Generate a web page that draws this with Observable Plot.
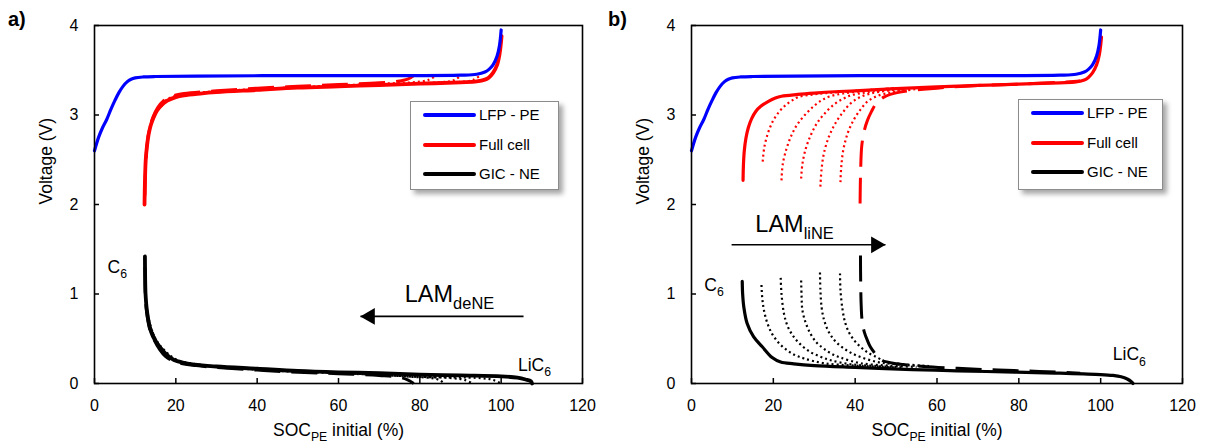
<!DOCTYPE html>
<html><head><meta charset="utf-8">
<script src="https://cdn.jsdelivr.net/npm/d3@7"></script>
<script src="https://cdn.jsdelivr.net/npm/@observablehq/plot@0.6"></script>
<style>
body{margin:0;background:#fff;font-family:"Liberation Sans",Arial,sans-serif;color:#000;}
#wrap{display:flex;width:1211px;height:446px;overflow:hidden;}
.panel{position:relative;height:446px;}
.tag{position:absolute;left:8px;top:8px;font-weight:bold;font-size:20px;}
.legend{position:absolute;background:#fff;border:1px solid #8c8c8c;box-shadow:4px 4px 5px rgba(0,0,0,0.35);font-size:15px;}
.legend .row{position:absolute;left:0;height:0;width:100%;}
.legend .sw{position:absolute;left:12px;width:53px;height:4px;top:-2px;border-radius:2px;}
.legend .lb{position:absolute;left:68px;top:-9px;white-space:nowrap;line-height:18px;}
</style></head><body>
<div id="wrap"><div class="panel" id="pa" style="width:600px"></div><div class="panel" id="pb" style="width:611px"></div></div>
<script>
// ---------- data ----------
const seriesNames = ["LFP - PE", "Full cell", "GIC - NE"];
const seriesColors = ["#0000ff", "#ff0000", "#000000"];
const xTicks = [0, 20, 40, 60, 80, 100, 120];
const yTicks = [0, 1, 2, 3, 4];
const panelTags = ["a)", "b)"];
const xLabel = "SOC|PE| initial (%)";
const yLabel = "Voltage (V)";

// LFP positive electrode (same in both panels) [SOC %, V]
const lfpPE = [[0,2.60],[1,2.75],[2,2.86],[3,2.95],[4,3.06],[5,3.16],[6,3.25],[7,3.32],[8,3.37],[9,3.40],[10,3.415],[12,3.425],[15,3.43],[25,3.435],[50,3.44],[75,3.44],[90,3.445],[94,3.455],[96,3.48],[97,3.51],[98,3.56],[99,3.66],[99.6,3.78],[100,3.95]];

// Panel a) LAM_deNE
const cellA = [[12.3,2.0],[12.4,2.25],[12.6,2.5],[12.9,2.65],[13.3,2.78],[13.8,2.88],[14.5,2.97],[15.4,3.05],[16.5,3.11],[17.9,3.16],[20,3.2],[22,3.22],[26,3.24],[30,3.255],[40,3.28],[50,3.305],[60,3.32],[70,3.335],[80,3.35],[90,3.365],[94,3.375],[96,3.395],[97,3.42],[98,3.47],[99,3.56],[99.6,3.68],[100.1,3.88]];
const cellA_dash = [[12.4,2.1],[12.6,2.45],[13,2.7],[13.6,2.86],[14.4,2.98],[15.5,3.08],[17,3.16],[19,3.21],[22,3.24],[30,3.27],[40,3.3],[50,3.32],[60,3.34],[70,3.36],[75,3.38],[77,3.40],[78.5,3.44]];
const cellA_dot1 = [[12.4,2.2],[12.8,2.6],[13.5,2.84],[14.5,2.96],[16,3.1],[18,3.18],[21,3.225],[30,3.265],[40,3.29],[50,3.31],[60,3.33],[70,3.35],[78,3.365],[82,3.39],[84,3.44]];
const cellA_dot2 = [[12.4,2.25],[12.8,2.62],[13.5,2.85],[15,3.02],[17,3.14],[20,3.2],[30,3.26],[40,3.285],[60,3.325],[80,3.355],[86,3.37],[88.5,3.39],[90,3.44]];
const cellA_dot3 = [[12.4,2.3],[13,2.68],[14,2.92],[16,3.08],[20,3.2],[30,3.255],[50,3.305],[70,3.34],[90,3.37],[93,3.39],[95,3.45]];
const negA = [[12.4,1.42],[12.45,1.2],[12.55,1.0],[12.8,0.85],[13.2,0.72],[13.9,0.58],[14.8,0.49],[16.4,0.39],[18,0.31],[19.7,0.26],[22,0.23],[24.6,0.21],[30,0.19],[40,0.165],[50,0.14],[60,0.125],[70,0.115],[80,0.10],[90,0.09],[100,0.08],[104,0.065],[106,0.045],[107.3,0.025],[107.6,0.0]];
const negA_dash = [[12.4,1.3],[12.5,1.0],[12.8,0.8],[13.5,0.62],[14.5,0.5],[16,0.38],[17.5,0.3],[20,0.24],[25,0.2],[30,0.18],[40,0.15],[50,0.125],[60,0.11],[70,0.09],[75,0.07],[77,0.04],[78.5,0.0]];
const negA_dot1 = [[12.4,1.35],[12.6,0.95],[13,0.78],[14,0.6],[15.5,0.45],[17,0.35],[19,0.27],[23,0.22],[30,0.185],[40,0.155],[50,0.13],[60,0.115],[70,0.095],[78,0.075],[83,0.06],[85,0.035],[86,0.0]];
const negA_dot2 = [[12.4,1.38],[12.6,0.98],[13.2,0.75],[14.5,0.55],[16,0.42],[18,0.32],[21,0.24],[30,0.185],[40,0.16],[60,0.12],[80,0.075],[88,0.06],[91,0.04],[93,0.0]];
const negA_dot3 = [[12.4,1.4],[12.7,0.92],[13.5,0.68],[15,0.5],[17,0.38],[20,0.27],[25,0.215],[40,0.16],[60,0.12],[80,0.075],[95,0.06],[98,0.04],[100,0.0]];

// Panel b) LAM_liNE
const cellB = [[12.6,2.27],[12.7,2.45],[12.9,2.6],[13.3,2.74],[13.9,2.86],[14.7,2.96],[15.7,3.04],[17,3.1],[18.7,3.15],[20.5,3.19],[22,3.21],[26,3.23],[30,3.245],[35,3.26],[40,3.27],[50,3.295],[60,3.315],[70,3.33],[80,3.345],[90,3.36],[94,3.37],[96,3.39],[97,3.42],[98,3.47],[99,3.56],[99.7,3.68],[100.2,3.87]];
const cellB_dot1 = [[17.4,2.48],[17.8,2.64],[18.7,2.8],[20,2.94],[21.5,3.04],[23,3.11],[24.5,3.16],[26,3.2],[29,3.225],[33,3.245],[40,3.27],[50,3.3]];
const cellB_dot2 = [[22.0,2.27],[22.3,2.45],[23.2,2.62],[24.4,2.77],[25.8,2.89],[27.7,3.0],[29.9,3.1],[32,3.17],[34,3.21],[37,3.24],[42,3.27],[50,3.3]];
const cellB_dot3 = [[26.8,2.29],[27.1,2.45],[27.9,2.62],[29.2,2.78],[30.7,2.91],[32.6,3.02],[34.9,3.12],[37,3.18],[39,3.22],[43,3.255],[50,3.29]];
const cellB_dot4 = [[31.5,2.2],[31.8,2.4],[32.4,2.58],[33.6,2.76],[35.2,2.91],[37,3.03],[38.9,3.13],[40.8,3.19],[43,3.23],[46,3.26],[52,3.29]];
const cellB_dot5 = [[36.4,2.25],[36.6,2.42],[37.1,2.61],[38.2,2.8],[39.7,2.95],[41.3,3.06],[43,3.15],[44.8,3.2],[47,3.235],[50,3.26],[55,3.29]];
const cellB_dash = [[41.2,2.01],[41.25,2.2],[41.35,2.4],[41.6,2.65],[42.2,2.82],[43.0,2.94],[44,3.04],[45,3.12],[47,3.2],[50.3,3.25],[60,3.3],[70,3.33],[80,3.345],[90,3.365],[95,3.38]];
const negB = [[12.4,1.14],[12.5,1.0],[12.8,0.85],[13.6,0.67],[15.2,0.52],[17.3,0.41],[19.7,0.29],[21.8,0.24],[25,0.22],[30,0.2],[40,0.18],[54,0.156],[65,0.142],[79,0.127],[90,0.115],[100,0.10],[103,0.09],[105,0.075],[106.5,0.05],[107.5,0.02],[107.9,0.0]];
const negB_dot1 = [[17.1,1.1],[17.3,0.95],[17.7,0.82],[18.5,0.68],[19.7,0.555],[21.4,0.45],[23.4,0.37],[25.4,0.315],[27.5,0.28],[32.3,0.227],[40,0.2],[50,0.18]];
const negB_dot2 = [[21.8,1.18],[22,1.0],[22.6,0.78],[23.5,0.64],[25,0.52],[26.8,0.43],[29.1,0.35],[31.5,0.3],[34,0.26],[38.9,0.215],[45,0.195],[52,0.18]];
const negB_dot3 = [[26.8,1.15],[26.9,0.98],[27.1,0.82],[27.9,0.68],[29.1,0.555],[30.5,0.46],[32.3,0.39],[34.3,0.33],[36.4,0.29],[41.3,0.227],[48,0.2],[55,0.185]];
const negB_dot4 = [[31.4,1.24],[31.5,1.05],[31.8,0.85],[32.4,0.71],[33.4,0.59],[34.8,0.49],[36.4,0.42],[38.3,0.36],[40.5,0.31],[45.4,0.24],[50,0.215],[57,0.19]];
const negB_dot5 = [[36.3,1.23],[36.4,1.05],[36.9,0.83],[37.5,0.69],[38.5,0.57],[39.8,0.48],[41.3,0.41],[42.9,0.35],[44.6,0.31],[47.8,0.24],[52,0.215],[58,0.195]];
const negB_dash = [[41.3,1.43],[41.32,1.25],[41.36,1.1],[41.45,0.9],[41.7,0.7],[42.2,0.58],[43,0.48],[43.7,0.41],[44.6,0.35],[45.5,0.3],[46.6,0.257],[50.3,0.22],[56.8,0.19],[65,0.17],[75,0.15],[85,0.135],[95,0.115]];

// annotations [label, SOC, V]
const annotA = [["C|6", 5.6, 1.3], ["LiC|6", 108.2, 0.2]];
const annotB = [["C|6", 5.5, 1.1], ["LiC|6", 107.0, 0.32]];
const lamA = [["LAM|deNE", 76.3, 1.0]];
const lamB = [["LAM|liNE", 15.6, 1.78]];
const arrowA = [[105.5, 65.4, 0.75]];   // from SOC, to SOC, V
const arrowB = [[9.8, 47.4, 1.55]];

// ---------- styles ----------
const lineStyles = {
  solid: {w: 3.2, dash: null, cap: "round"},
  thick: {w: 3.8, dash: null, cap: "round"},
  dot: {w: 2.2, dash: "2,3", cap: "butt"},
  dash: {w: 3, dash: "26,11", cap: "butt"}
};
const H = 446, mTop = 25, mBottom = 63;

const panels = [
  {el: "pa", width: 600, mLeft: 94, mRight: 18, annot: annotA, lam: lamA, arrow: arrowA, dir: -1,
   legend: {left: 410, top: 101, width: 147, height: 87},
   curves: [
     {pts: negA_dot3, s: 2, st: "dot"}, {pts: negA_dot2, s: 2, st: "dot"}, {pts: negA_dot1, s: 2, st: "dot"}, {pts: negA_dash, s: 2, st: "dash"},
     {pts: cellA_dot3, s: 1, st: "dot"}, {pts: cellA_dot2, s: 1, st: "dot"}, {pts: cellA_dot1, s: 1, st: "dot"}, {pts: cellA_dash, s: 1, st: "dash"},
     {pts: negA, s: 2, st: "thick"}, {pts: cellA, s: 1, st: "thick"}, {pts: lfpPE, s: 0, st: "solid"}
   ]},
  {el: "pb", width: 611, mLeft: 91, mRight: 29, annot: annotB, lam: lamB, arrow: arrowB, dir: 1,
   legend: {left: 418, top: 99, width: 143, height: 89},
   curves: [
     {pts: negB, s: 2, st: "solid"}, {pts: cellB, s: 1, st: "solid"}, {pts: lfpPE, s: 0, st: "solid"},
     {pts: negB_dot1, s: 2, st: "dot"}, {pts: negB_dot2, s: 2, st: "dot"}, {pts: negB_dot3, s: 2, st: "dot"}, {pts: negB_dot4, s: 2, st: "dot"}, {pts: negB_dot5, s: 2, st: "dot"}, {pts: negB_dash, s: 2, st: "dash"},
     {pts: cellB_dot1, s: 1, st: "dot"}, {pts: cellB_dot2, s: 1, st: "dot"}, {pts: cellB_dot3, s: 1, st: "dot"}, {pts: cellB_dot4, s: 1, st: "dot"}, {pts: cellB_dot5, s: 1, st: "dot"}, {pts: cellB_dash, s: 1, st: "dash"}
   ]}
];

function applySubscripts(svg) {
  d3.select(svg).selectAll("text").each(function() {
    const s = this.textContent;
    if (!s.includes("|")) return;
    const fs = parseFloat(getComputedStyle(this).fontSize) || 14;
    const parts = s.split("|");
    while (this.firstChild) this.removeChild(this.firstChild);
    let shifted = false;
    parts.forEach((p, i) => {
      if (!p) return;
      const sub = i % 2 === 1;
      const t = d3.select(this).append("tspan").text(p);
      if (sub) { t.attr("font-size", (fs * 0.7) + "px").attr("dy", (fs * 0.3) + "px"); shifted = true; }
      else if (shifted) { t.attr("dy", (-fs * 0.3) + "px"); shifted = false; }
    });
  });
}

panels.forEach((cfg, pi) => {
  const plotW = cfg.width - cfg.mLeft - cfg.mRight, plotH = H - mTop - mBottom;
  const marks = [];
  for (const c of cfg.curves) {
    const st = lineStyles[c.st];
    marks.push(Plot.line(c.pts, {x: d => d[0], y: d => d[1], stroke: seriesColors[c.s], curve: "catmull-rom",
      strokeWidth: st.w, strokeDasharray: st.dash, strokeLinecap: st.cap, strokeLinejoin: "round"}));
  }
  marks.push(
    Plot.text(cfg.annot, {x: d => d[1], y: d => d[2], text: d => d[0], fontSize: 17.5, textAnchor: "middle"}),
    Plot.text(cfg.lam, {x: d => d[1], y: d => d[2], text: d => d[0], fontSize: 23.5, textAnchor: "start"}),
    Plot.link(cfg.arrow, {x1: d => d[0], x2: d => d[1], y1: d => d[2], y2: d => d[2], stroke: "black", strokeWidth: 1.6}),
    Plot.dot(cfg.arrow, {x: d => d[1], y: d => d[2], symbol: "triangle2", r: 8, fill: "black", stroke: null,
      rotate: cfg.dir < 0 ? -90 : 90, dx: cfg.dir < 0 ? 9.5 : -9.5}),
    Plot.tickX(xTicks, {x: d => d, insetTop: plotH - 5, stroke: "black", strokeWidth: 1.5}),
    Plot.tickY(yTicks, {y: d => d, insetRight: plotW - 5, stroke: "black", strokeWidth: 1.5}),
    Plot.frame({stroke: "black", strokeWidth: 1.6}),
    Plot.axisX({ticks: xTicks, tickSize: 0, tickPadding: 16, fontSize: 16, label: null, tickFormat: d => String(d)}),
    Plot.axisY({ticks: yTicks, tickSize: 0, tickPadding: 16, fontSize: 16, label: null, tickFormat: d => String(d)}),
    Plot.text([xLabel], {frameAnchor: "bottom", dy: 52, fontSize: 17.5, text: d => d}),
    Plot.text([yLabel], {frameAnchor: "left", dx: -48, rotate: -90, fontSize: 17.5, text: d => d})
  );
  const plot = Plot.plot({
    width: cfg.width, height: H,
    marginLeft: cfg.mLeft, marginRight: cfg.mRight, marginTop: mTop, marginBottom: mBottom,
    x: {domain: [0, 120]}, y: {domain: [0, 4]},
    style: {fontFamily: "Liberation Sans, Arial, sans-serif", fontSize: "14px", color: "black", background: "white", overflow: "visible"},
    marks
  });
  const host = document.getElementById(cfg.el);
  host.appendChild(plot);
  applySubscripts(plot);

  const tag = document.createElement("div");
  tag.className = "tag"; tag.textContent = panelTags[pi];
  host.appendChild(tag);

  const lg = document.createElement("div");
  lg.className = "legend";
  Object.assign(lg.style, {left: cfg.legend.left + "px", top: cfg.legend.top + "px", width: cfg.legend.width + "px", height: cfg.legend.height + "px"});
  seriesNames.forEach((n, i) => {
    const row = document.createElement("div");
    row.className = "row"; row.style.top = (13 + i * 29.5) + "px";
    row.innerHTML = `<div class="sw" style="background:${seriesColors[i]}"></div><div class="lb">${n}</div>`;
    lg.appendChild(row);
  });
  host.appendChild(lg);
});
</script>
</body></html>
